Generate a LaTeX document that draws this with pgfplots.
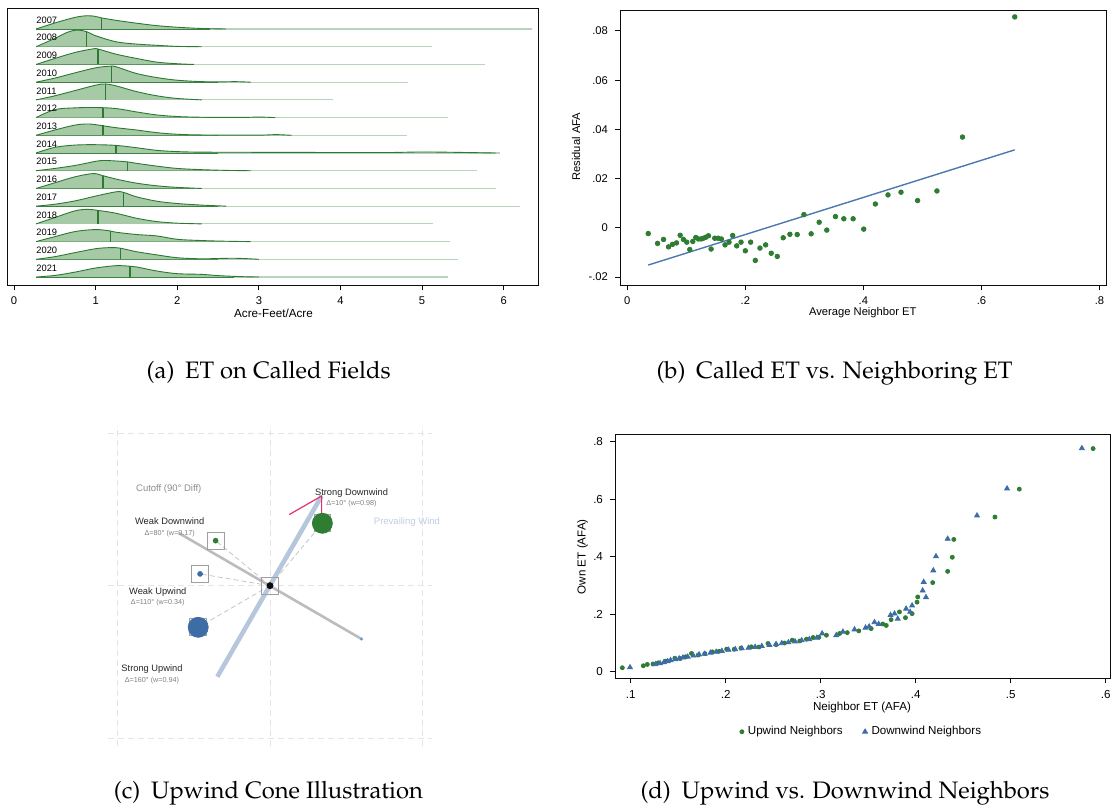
\documentclass[border=0pt]{standalone}
\usepackage[T1]{fontenc}
\usepackage{fontspec}
\setmainfont{Liberation Sans}
\usepackage{pgfplots}
\pgfplotsset{compat=1.18}

\definecolor{axk}{RGB}{12,12,12}
\definecolor{rfill}{RGB}{165,202,165}
\definecolor{rline}{RGB}{45,120,50}
\definecolor{sgreen}{RGB}{46,125,50}
\definecolor{sblue}{RGB}{62,108,165}
\definecolor{lblue}{RGB}{74,120,176}
\definecolor{wind}{RGB}{182,199,221}
\definecolor{cutgray}{RGB}{188,188,188}
\definecolor{pinkc}{RGB}{225,50,110}
\definecolor{windtxt}{RGB}{190,204,226}
\definecolor{tailc}{RGB}{185,212,186}

\newcommand\capfont{\fontencoding{T1}\fontfamily{ppl}\fontsize{11.9}{14}\selectfont}

\pgfplotsset{
  stata/.style={scale only axis, anchor=south west,
    axis line style={line width=0.5pt, draw=axk},
    tick align=outside, major tick length=2.5pt,
    tick style={line width=0.5pt, draw=axk},
    xtick pos=bottom, ytick pos=left,
    scaled ticks=false,
    tick label style={font=\fontsize{5.6}{6.5}\selectfont}},
  ridge/.style={draw=rline, fill=rfill, line width=0.45pt, smooth, tension=0.55, mark=none},
  base/.style={rline, line width=0.5pt, mark=none},
  tail/.style={tailc, line width=0.6pt, mark=none},
  med/.style={rline, line width=0.6pt, mark=none},
  gridl/.style={gray!20, line width=0.4pt, dash pattern=on 3pt off 2pt, mark=none},
  conn/.style={gray!50, line width=0.35pt, dash pattern=on 2.5pt off 1.5pt, mark=none},
}

\begin{document}
\begin{tikzpicture}
\useasboundingbox (0,0) rectangle (556pt,-404.5pt);

% ---------------- (a) ridgelines ----------------
\begin{axis}[stata, at={(3.5pt,-142.5pt)}, width=265.5pt, height=138pt,
  xmin=-0.086, xmax=6.42, ymin=-0.45, ymax=15.13,
  xtick={0,1,2,3,4,5,6}, xticklabels={0,1,2,3,4,5,6}, ytick=\empty]
% 2007
\addplot[tail] coordinates {(2.2,14)(6.35,14)};
\addplot[base] coordinates {(0.27,14)(2.4,14)};
\addplot[ridge] table[row sep=\\,y expr=\thisrow{h}+14]{x h\\0.27 0\\0.5 0.34\\0.75 0.66\\0.9 0.75\\1.0 0.71\\1.07 0.63\\1.25 0.49\\1.5 0.33\\1.75 0.19\\2.0 0.10\\2.3 0.03\\2.6 0\\};
\addplot[med] coordinates {(1.07,14)(1.07,14.63)};
% 2008
\addplot[tail] coordinates {(2.0,13)(5.12,13)};
\addplot[base] coordinates {(0.27,13)(2.2,13)};
\addplot[ridge] table[row sep=\\,y expr=\thisrow{h}+13]{x h\\0.27 0\\0.5 0.47\\0.65 0.81\\0.77 0.94\\0.89 0.85\\1.0 0.62\\1.25 0.28\\1.5 0.15\\1.75 0.08\\2.0 0.02\\2.3 0\\};
\addplot[med] coordinates {(0.89,13)(0.89,13.85)};
% 2009
\addplot[tail] coordinates {(2.0,12)(5.77,12)};
\addplot[base] coordinates {(0.27,12)(2.2,12)};
\addplot[ridge] table[row sep=\\,y expr=\thisrow{h}+12]{x h\\0.27 0\\0.5 0.34\\0.75 0.68\\0.97 0.88\\1.03 0.87\\1.25 0.58\\1.5 0.34\\1.75 0.13\\2.0 0.04\\2.2 0\\};
\addplot[med] coordinates {(1.03,12)(1.03,12.87)};
% 2010
\addplot[tail] coordinates {(2.2,11)(4.83,11)};
\addplot[base] coordinates {(0.27,11)(2.5,11)};
\addplot[ridge] table[row sep=\\,y expr=\thisrow{h}+11]{x h\\0.27 0\\0.5 0.23\\0.75 0.53\\1.0 0.81\\1.17 0.9\\1.25 0.87\\1.5 0.49\\1.75 0.26\\2.0 0.11\\2.3 0.03\\2.6 0.02\\2.7 0.03\\2.9 0\\};
\addplot[med] coordinates {(1.19,11)(1.19,11.89)};
% 2011
\addplot[tail] coordinates {(2.0,10)(3.91,10)};
\addplot[base] coordinates {(0.27,10)(2.2,10)};
\addplot[ridge] table[row sep=\\,y expr=\thisrow{h}+10]{x h\\0.27 0\\0.5 0.23\\0.75 0.53\\1.0 0.83\\1.12 0.9\\1.25 0.79\\1.5 0.47\\1.75 0.23\\2.0 0.08\\2.3 0\\};
\addplot[med] coordinates {(1.12,10)(1.12,10.9)};
% 2012
\addplot[tail] coordinates {(2.2,9)(5.32,9)};
\addplot[base] coordinates {(0.27,9)(2.5,9)};
\addplot[ridge] table[row sep=\\,y expr=\thisrow{h}+9]{x h\\0.27 0\\0.5 0.45\\0.75 0.55\\1.0 0.57\\1.25 0.51\\1.5 0.32\\1.75 0.15\\2.0 0.06\\2.3 0.02\\2.8 0.01\\3.0 0.03\\3.2 0\\};
\addplot[med] coordinates {(1.09,9)(1.09,9.55)};
% 2013
\addplot[tail] coordinates {(2.2,8)(4.82,8)};
\addplot[base] coordinates {(0.27,8)(2.5,8)};
\addplot[ridge] table[row sep=\\,y expr=\thisrow{h}+8]{x h\\0.27 0\\0.5 0.30\\0.75 0.58\\0.9 0.64\\1.0 0.6\\1.25 0.43\\1.5 0.30\\1.75 0.15\\2.0 0.06\\2.3 0.02\\3.0 0.01\\3.2 0.04\\3.4 0\\};
\addplot[med] coordinates {(1.09,8)(1.09,8.56)};
% 2014
\addplot[tail] coordinates {(2.2,7)(5.96,7)};
\addplot[base] coordinates {(0.27,7)(2.5,7)};
\addplot[ridge] table[row sep=\\,y expr=\thisrow{h}+7]{x h\\0.27 0\\0.5 0.32\\0.75 0.45\\1.0 0.47\\1.25 0.43\\1.5 0.30\\1.75 0.15\\2.0 0.08\\2.3 0.05\\3.0 0.04\\4.0 0.03\\4.6 0.03\\5.0 0.06\\5.4 0.04\\5.9 0\\};
\addplot[med] coordinates {(1.25,7)(1.25,7.43)};
% 2015
\addplot[tail] coordinates {(2.2,6)(5.67,6)};
\addplot[base] coordinates {(0.27,6)(2.5,6)};
\addplot[ridge] table[row sep=\\,y expr=\thisrow{h}+6]{x h\\0.27 0\\0.5 0.13\\0.75 0.30\\1.0 0.53\\1.1 0.58\\1.25 0.55\\1.39 0.5\\1.5 0.42\\1.75 0.26\\2.0 0.13\\2.3 0.06\\2.6 0.02\\2.9 0\\};
\addplot[med] coordinates {(1.39,6)(1.39,6.5)};
% 2016
\addplot[tail] coordinates {(2.0,5)(5.9,5)};
\addplot[base] coordinates {(0.27,5)(2.2,5)};
\addplot[ridge] table[row sep=\\,y expr=\thisrow{h}+5]{x h\\0.27 0\\0.5 0.32\\0.75 0.66\\0.97 0.84\\1.09 0.72\\1.25 0.53\\1.5 0.30\\1.75 0.15\\2.0 0.06\\2.3 0\\};
\addplot[med] coordinates {(1.09,5)(1.09,5.72)};
% 2017
\addplot[tail] coordinates {(2.2,4)(6.2,4)};
\addplot[base] coordinates {(0.27,4)(2.5,4)};
\addplot[ridge] table[row sep=\\,y expr=\thisrow{h}+4]{x h\\0.27 0\\0.5 0.11\\0.75 0.30\\1.0 0.57\\1.25 0.81\\1.34 0.78\\1.5 0.53\\1.75 0.28\\2.0 0.15\\2.3 0.06\\2.6 0\\};
\addplot[med] coordinates {(1.34,4)(1.34,4.78)};
% 2018
\addplot[tail] coordinates {(2.0,3)(5.13,3)};
\addplot[base] coordinates {(0.27,3)(2.2,3)};
\addplot[ridge] table[row sep=\\,y expr=\thisrow{h}+3]{x h\\0.27 0\\0.5 0.36\\0.75 0.74\\0.9 0.82\\1.03 0.76\\1.25 0.6\\1.5 0.32\\1.75 0.13\\2.0 0.04\\2.3 0\\};
\addplot[med] coordinates {(1.03,3)(1.03,3.76)};
% 2019
\addplot[tail] coordinates {(2.2,2)(5.34,2)};
\addplot[base] coordinates {(0.27,2)(2.5,2)};
\addplot[ridge] table[row sep=\\,y expr=\thisrow{h}+2]{x h\\0.27 0\\0.5 0.28\\0.75 0.57\\1.0 0.68\\1.18 0.6\\1.25 0.53\\1.5 0.40\\1.75 0.32\\2.0 0.13\\2.3 0.06\\2.6 0.02\\2.9 0\\};
\addplot[med] coordinates {(1.18,2)(1.18,2.6)};
% 2020
\addplot[tail] coordinates {(2.2,1)(5.44,1)};
\addplot[base] coordinates {(0.27,1)(2.5,1)};
\addplot[ridge] table[row sep=\\,y expr=\thisrow{h}+1]{x h\\0.27 0\\0.5 0.15\\0.75 0.38\\1.0 0.60\\1.18 0.66\\1.3 0.63\\1.5 0.43\\1.75 0.25\\2.0 0.09\\2.3 0.03\\2.7 0.06\\3.0 0\\};
\addplot[med] coordinates {(1.30,1)(1.30,1.63)};
% 2021
\addplot[tail] coordinates {(2.4,0)(5.32,0)};
\addplot[base] coordinates {(0.27,0)(2.7,0)};
\addplot[ridge] table[row sep=\\,y expr=\thisrow{h}+0]{x h\\0.27 0\\0.5 0.09\\0.75 0.28\\1.0 0.51\\1.25 0.64\\1.42 0.61\\1.5 0.57\\1.75 0.34\\2.0 0.19\\2.3 0.15\\2.5 0.08\\2.8 0.02\\3.0 0\\};
\addplot[med] coordinates {(1.42,0)(1.42,0.61)};
% year labels
\node[anchor=base west, inner sep=0pt, font=\fontsize{4.65}{5}\selectfont] at (axis cs:0.27,14.33) {2007};
\node[anchor=base west, inner sep=0pt, font=\fontsize{4.65}{5}\selectfont] at (axis cs:0.27,13.33) {2008};
\node[anchor=base west, inner sep=0pt, font=\fontsize{4.65}{5}\selectfont] at (axis cs:0.27,12.33) {2009};
\node[anchor=base west, inner sep=0pt, font=\fontsize{4.65}{5}\selectfont] at (axis cs:0.27,11.33) {2010};
\node[anchor=base west, inner sep=0pt, font=\fontsize{4.65}{5}\selectfont] at (axis cs:0.27,10.33) {2011};
\node[anchor=base west, inner sep=0pt, font=\fontsize{4.65}{5}\selectfont] at (axis cs:0.27,9.33) {2012};
\node[anchor=base west, inner sep=0pt, font=\fontsize{4.65}{5}\selectfont] at (axis cs:0.27,8.33) {2013};
\node[anchor=base west, inner sep=0pt, font=\fontsize{4.65}{5}\selectfont] at (axis cs:0.27,7.33) {2014};
\node[anchor=base west, inner sep=0pt, font=\fontsize{4.65}{5}\selectfont] at (axis cs:0.27,6.33) {2015};
\node[anchor=base west, inner sep=0pt, font=\fontsize{4.65}{5}\selectfont] at (axis cs:0.27,5.33) {2016};
\node[anchor=base west, inner sep=0pt, font=\fontsize{4.65}{5}\selectfont] at (axis cs:0.27,4.33) {2017};
\node[anchor=base west, inner sep=0pt, font=\fontsize{4.65}{5}\selectfont] at (axis cs:0.27,3.33) {2018};
\node[anchor=base west, inner sep=0pt, font=\fontsize{4.65}{5}\selectfont] at (axis cs:0.27,2.33) {2019};
\node[anchor=base west, inner sep=0pt, font=\fontsize{4.65}{5}\selectfont] at (axis cs:0.27,1.33) {2020};
\node[anchor=base west, inner sep=0pt, font=\fontsize{4.65}{5}\selectfont] at (axis cs:0.27,0.33) {2021};
\end{axis}
\node[font=\fontsize{5.85}{7}\selectfont] at (136.75pt,-156.5pt) {Acre-Feet/Acre};

% ---------------- (b) binned scatter ----------------
\begin{axis}[stata, at={(310pt,-142.5pt)}, width=243pt, height=137.5pt,
  xmin=-0.0123, xmax=0.811, ymin=-0.0232, ymax=0.0885,
  xtick={0,0.2,0.4,0.6,0.8}, xticklabels={0,.2,.4,.6,.8},
  ytick={-0.02,0,0.02,0.04,0.06,0.08}, yticklabels={-.02,0,.02,.04,.06,.08}]
\addplot[only marks, mark=*, mark size=1.15pt, sgreen] coordinates {
(0.0355,-0.0023)(0.0513,-0.0063)(0.0614,-0.0047)(0.0699,-0.0077)(0.0766,-0.0067)(0.0834,-0.0061)(0.0896,-0.0030)(0.0952,-0.0047)(0.1008,-0.0058)(0.1059,-0.0088)(0.1110,-0.0055)(0.1161,-0.0039)(0.1206,-0.0045)(0.1251,-0.0045)(0.1290,-0.0042)(0.1330,-0.0038)(0.1375,-0.0032)(0.1420,-0.0086)(0.1482,-0.0042)(0.1538,-0.0042)(0.1594,-0.0045)(0.1656,-0.0069)(0.1724,-0.0058)(0.1786,-0.0031)(0.1854,-0.0073)(0.1927,-0.0058)(0.2000,-0.0093)(0.2090,-0.0058)(0.2169,-0.0132)(0.2248,-0.0082)(0.2344,-0.0069)(0.2439,-0.0103)(0.2541,-0.0116)(0.2642,-0.0040)(0.2755,-0.0026)(0.2879,-0.0027)(0.2992,0.0054)(0.3115,-0.0024)(0.3251,0.0023)(0.3380,-0.0009)(0.3527,0.0046)(0.3668,0.0037)(0.3826,0.0037)(0.4006,-0.0005)(0.4203,0.0097)(0.4417,0.0134)(0.4637,0.0145)(0.4918,0.0111)(0.5246,0.0150)(0.5679,0.0369)(0.6564,0.0857)};
\addplot[lblue, line width=0.7pt, mark=none] coordinates {(0.0355,-0.0151)(0.6564,0.0317)};
\end{axis}
\draw[axk, line width=0.5pt] (310pt,-142.5pt) rectangle (553pt,-5pt);
\node[font=\fontsize{5.6}{7}\selectfont] at (431.4pt,-156.2pt) {Average Neighbor ET};
\node[rotate=90, font=\fontsize{5.6}{7}\selectfont] at (288pt,-73.35pt) {Residual AFA};

% ---------------- (c) illustration ----------------
\begin{axis}[at={(54.07pt,-372.9pt)}, anchor=south west, scale only axis,
  width=161.85pt, height=160.15pt, xmin=-1.06, xmax=1.06, ymin=-1.05, ymax=1.05,
  hide axis, clip=false]
\addplot[gridl] coordinates {(-1,-1.05)(-1,1.05)};
\addplot[gridl] coordinates {(0,-1.05)(0,1.05)};
\addplot[gridl] coordinates {(1,-1.05)(1,1.05)};
\addplot[gridl] coordinates {(-1.06,-1)(1.06,-1)};
\addplot[gridl] coordinates {(-1.06,0)(1.06,0)};
\addplot[gridl] coordinates {(-1.06,1)(1.06,1)};
\addplot[conn] coordinates {(0,0)(0.343,0.409)};
\addplot[conn] coordinates {(0,0)(-0.356,0.295)};
\addplot[conn] coordinates {(0,0)(-0.458,0.077)};
\addplot[conn] coordinates {(0,0)(-0.47,-0.273)};
\addplot[cutgray, line width=1.3pt, mark=none] coordinates {(-0.596,0.344)(0.6,-0.35)};
\addplot[wind, line width=2.3pt, mark=none] coordinates {(-0.345,-0.597)(0.338,0.588)};
\addplot[pinkc, line width=0.6pt, mark=none] coordinates {(0.126,0.466)(0.338,0.588)(0.338,0.431)};
\addplot[only marks, mark=square, mark size=4.2pt, mark options={draw=gray!75, line width=0.45pt}] coordinates {(0,0)(-0.356,0.295)(-0.458,0.077)(0.343,0.409)(-0.47,-0.273)};
\addplot[only marks, mark=*, mark size=5pt, sgreen] coordinates {(0.343,0.409)};
\addplot[only marks, mark=*, mark size=5pt, sblue] coordinates {(-0.47,-0.273)};
\addplot[only marks, mark=*, mark size=1.2pt, sgreen] coordinates {(-0.356,0.295)};
\addplot[only marks, mark=*, mark size=1.2pt, sblue] coordinates {(-0.458,0.077)};
\addplot[only marks, mark=*, mark size=1.5pt, axk] coordinates {(0,0)};
\addplot[only marks, mark=*, mark size=0.5pt, color={rgb,255:red,90;green,150;blue,230}] coordinates {(0.6,-0.35)};
\node[font=\fontsize{4.75}{5}\selectfont, text=gray!90] at (axis cs:-0.663,0.634) {Cutoff (90° Diff)};
\node[font=\fontsize{4.75}{5}\selectfont, text=windtxt] at (axis cs:0.897,0.42) {Prevailing Wind};
\node[font=\fontsize{4.65}{5}\selectfont, text=black!85] at (axis cs:0.534,0.61) {Strong Downwind};
\node[font=\fontsize{3.6}{4}\selectfont, text=gray] at (axis cs:0.534,0.538) {Δ=10° (w=0.98)};
\node[font=\fontsize{4.65}{5}\selectfont, text=black!85] at (axis cs:-0.657,0.42) {Weak Downwind};
\node[font=\fontsize{3.6}{4}\selectfont, text=gray] at (axis cs:-0.657,0.341) {Δ=80° (w=0.17)};
\node[font=\fontsize{4.65}{5}\selectfont, text=black!85] at (axis cs:-0.735,-0.041) {Weak Upwind};
\node[font=\fontsize{3.6}{4}\selectfont, text=gray] at (axis cs:-0.735,-0.113) {Δ=110° (w=0.34)};
\node[font=\fontsize{4.65}{5}\selectfont, text=black!85] at (axis cs:-0.773,-0.544) {Strong Upwind};
\node[font=\fontsize{3.6}{4}\selectfont, text=gray] at (axis cs:-0.773,-0.623) {Δ=160° (w=0.94)};
\end{axis}

% ---------------- (d) upwind vs downwind ----------------
\begin{axis}[stata, at={(307.5pt,-339.15pt)}, width=247.5pt, height=122pt,
  xmin=0.0835, xmax=0.6045, ymin=-0.0229, ymax=0.8256,
  xtick={0.1,0.2,0.3,0.4,0.5,0.6}, xticklabels={.1,.2,.3,.4,.5,.6},
  ytick={0,0.2,0.4,0.6,0.8}, yticklabels={0,.2,.4,.6,.8},
  tick label style={font=\fontsize{5.8}{7}\selectfont},
  legend style={at={(0.5,-0.219)}, anchor=center, draw=none, fill=none,
    legend columns=2, font=\fontsize{5.8}{7}\selectfont,
    /tikz/every even column/.append style={column sep=8pt}},
  legend cell align=left]
\addplot[only marks, mark=*, mark size=1.0pt, sgreen] coordinates {
(0.0912,0.0139)(0.1133,0.0208)(0.1175,0.0254)(0.1235,0.027)(0.129,0.031)(0.137,0.037)(0.1465,0.047)(0.152,0.046)(0.158,0.052)(0.164,0.0635)(0.171,0.058)(0.178,0.063)(0.186,0.069)(0.193,0.071)(0.201,0.0785)(0.209,0.078)(0.216,0.082)(0.227,0.0866)(0.235,0.086)(0.2445,0.0981)(0.253,0.094)(0.262,0.100)(0.270,0.1097)(0.278,0.107)(0.285,0.113)(0.292,0.119)(0.298,0.120)(0.306,0.127)(0.3199,0.133)(0.328,0.136)(0.3401,0.142)(0.3531,0.150)(0.3653,0.166)(0.369,0.161)(0.3741,0.181)(0.3829,0.208)(0.3892,0.188)(0.3962,0.202)(0.4014,0.242)(0.4021,0.260)(0.4179,0.310)(0.4336,0.349)(0.4385,0.398)(0.4401,0.460)(0.4834,0.538)(0.509,0.635)(0.5867,0.776)};
\addlegendentry{Upwind Neighbors}
\addplot[only marks, mark=triangle*, mark size=1.4pt, sblue] coordinates {
(0.0993,0.015)(0.126,0.026)(0.131,0.029)(0.135,0.033)(0.139,0.036)(0.142,0.040)(0.147,0.043)(0.151,0.046)(0.155,0.049)(0.160,0.052)(0.166,0.056)(0.172,0.060)(0.178,0.062)(0.184,0.066)(0.190,0.069)(0.196,0.072)(0.203,0.076)(0.210,0.078)(0.217,0.081)(0.224,0.083)(0.231,0.086)(0.238,0.089)(0.246,0.093)(0.253,0.096)(0.259,0.099)(0.266,0.102)(0.273,0.105)(0.280,0.109)(0.288,0.113)(0.296,0.118)(0.3015,0.133)(0.3164,0.127)(0.3234,0.139)(0.3356,0.147)(0.3472,0.153)(0.351,0.157)(0.3566,0.172)(0.361,0.166)(0.3735,0.197)(0.3777,0.202)(0.3811,0.184)(0.3899,0.219)(0.3941,0.208)(0.3962,0.230)(0.4073,0.282)(0.4084,0.312)(0.4108,0.259)(0.4185,0.352)(0.4213,0.401)(0.4336,0.462)(0.4645,0.543)(0.4961,0.637)(0.5749,0.777)};
\addlegendentry{Downwind Neighbors}
\end{axis}
\draw[axk, line width=0.5pt] (307.5pt,-339.15pt) rectangle (555pt,-217.15pt);
\node[font=\fontsize{5.8}{7}\selectfont] at (431pt,-353.5pt) {Neighbor ET (AFA)};
\node[rotate=90, font=\fontsize{5.8}{7}\selectfont] at (291.35pt,-278.35pt) {Own ET (AFA)};

% ---------------- captions ----------------
\node[anchor=base, inner sep=0pt] at (134.35pt,-189pt) {\capfont (a)\hspace{0.45em}ET on Called Fields};
\node[anchor=base, inner sep=0pt] at (417.25pt,-189pt) {\capfont (b)\hspace{0.45em}Called ET vs. Neighboring ET};
\node[anchor=base, inner sep=0pt] at (134.25pt,-399pt) {\capfont (c)\hspace{0.45em}Upwind Cone Illustration};
\node[anchor=base, inner sep=0pt] at (422.5pt,-399pt) {\capfont (d)\hspace{0.45em}Upwind vs. Downwind Neighbors};
\end{tikzpicture}
\end{document}
